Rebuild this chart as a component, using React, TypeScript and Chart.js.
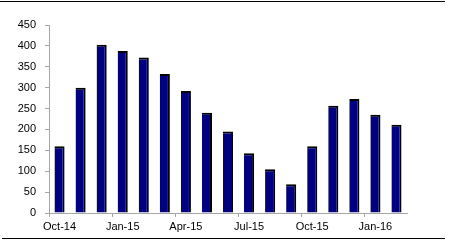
import React, { useEffect, useRef } from "react";
import { Chart, registerables } from "chart.js";

Chart.register(...registerables);

const categories = [
  "Oct-14", "Nov-14", "Dec-14", "Jan-15", "Feb-15", "Mar-15", "Apr-15", "May-15", "Jun-15",
  "Jul-15", "Aug-15", "Sep-15", "Oct-15", "Nov-15", "Dec-15", "Jan-16", "Feb-16",
];
const values = [160, 300, 403, 388, 372, 333, 292, 240, 195, 143, 105, 69, 160, 257, 273, 235, 211];
const yMin = 0;
const yMax = 450;
const yStep = 50;

const AXIS = "#a6a6a6";
const FONT = { family: "'Liberation Sans', Arial, sans-serif", size: 11 };

export default function App() {
  const ref = useRef<HTMLCanvasElement | null>(null);
  useEffect(() => {
    if (!ref.current) return;
    const chart = new Chart(ref.current, {
      type: "bar",
      data: {
        labels: categories,
        datasets: [
          {
            data: values,
            backgroundColor: "#000080",
            borderColor: "#000000",
            borderWidth: { top: 2, right: 2, left: 0, bottom: 0 } as any,
            borderSkipped: false as any,
            categoryPercentage: 1,
            barPercentage: 0.48,
          },
        ],
      },
      options: {
        animation: false,
        responsive: false,
        maintainAspectRatio: false,
        layout: { padding: { left: 0, top: 25, right: 43, bottom: 0 } },
        plugins: { legend: { display: false }, tooltip: { enabled: false } },
        scales: {
          x: {
            grid: {
              drawOnChartArea: false,
              drawTicks: true,
              tickLength: 4,
              offset: true,
              tickColor: (ctx: any) => (ctx.index % 3 === 0 ? AXIS : "transparent"),
            },
            border: { display: true, color: AXIS, width: 1 },
            ticks: {
              autoSkip: false,
              maxRotation: 0,
              minRotation: 0,
              padding: 3,
              color: "#000",
              font: FONT,
              callback: (_v: any, i: number) => (i % 3 === 0 ? categories[i] : ""),
            },
            afterFit: (s: any) => {
              s.height = 37;
            },
          },
          y: {
            min: yMin,
            max: yMax,
            grid: { drawOnChartArea: false, drawTicks: true, tickLength: 4, tickColor: AXIS },
            border: { display: true, color: AXIS, width: 1 },
            ticks: { stepSize: yStep, padding: 9, color: "#000", font: FONT },
            afterFit: (s: any) => {
              s.width = 49;
            },
          },
        },
      },
    });
    return () => chart.destroy();
  }, []);
  return (
    <div style={{ position: "fixed", left: 0, top: 0, width: 450, height: 250, background: "#fff" }}>
      <canvas ref={ref} width={450} height={250} style={{ position: "absolute", left: 0, top: 0 }} />
      <div style={{ position: "absolute", left: 0, top: 1, width: 445, height: 1, background: "#000" }} />
      <div style={{ position: "absolute", left: 2, top: 238, width: 443, height: 1, background: "#000" }} />
    </div>
  );
}
